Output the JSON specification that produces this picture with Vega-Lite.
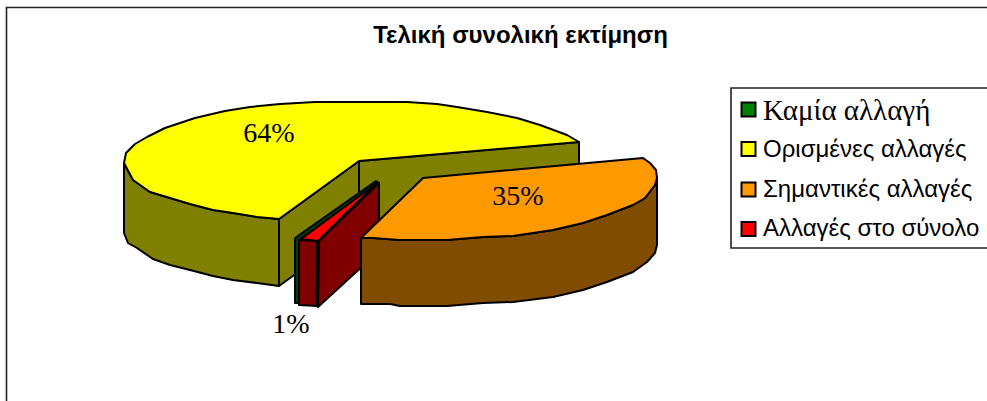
{
"$schema":"https://vega.github.io/schema/vega-lite/v6.json",
"width":987,"height":401,"padding":0,
"autosize":{"type":"fit","contains":"padding"},
"background":"white",
"config":{"view":{"stroke":null}},
"datasets":{
"boxes":[{"box":"frame","x":6.5,"x2":1000,"y":7.5,"y2":420},{"box":"legend","x":731,"x2":1000,"y":88,"y2":248}],
"faces":[
{"part":"a yellow side","x":124,"y":163},{"part":"a yellow side","x":133,"y":180},{"part":"a yellow side","x":150,"y":192},{"part":"a yellow side","x":170,"y":198},{"part":"a yellow side","x":190,"y":204},{"part":"a yellow side","x":213,"y":210},{"part":"a yellow side","x":233,"y":213},{"part":"a yellow side","x":257,"y":217},{"part":"a yellow side","x":279,"y":219},{"part":"a yellow side","x":279,"y":286},{"part":"a yellow side","x":257,"y":283},{"part":"a yellow side","x":233,"y":280},{"part":"a yellow side","x":213,"y":276},{"part":"a yellow side","x":190,"y":270},{"part":"a yellow side","x":170,"y":265},{"part":"a yellow side","x":153,"y":259},{"part":"a yellow side","x":137,"y":248},{"part":"a yellow side","x":128,"y":243},{"part":"a yellow side","x":124,"y":233},{"part":"a yellow side","x":124,"y":163},
{"part":"b yellow cut left","x":279,"y":219},{"part":"b yellow cut left","x":359,"y":161},{"part":"b yellow cut left","x":359,"y":228},{"part":"b yellow cut left","x":279,"y":286},{"part":"b yellow cut left","x":279,"y":219},
{"part":"c yellow cut back","x":359,"y":161},{"part":"c yellow cut back","x":579,"y":142},{"part":"c yellow cut back","x":579,"y":208},{"part":"c yellow cut back","x":359,"y":228},{"part":"c yellow cut back","x":359,"y":161},
{"part":"d yellow top","x":124,"y":163},{"part":"d yellow top","x":126,"y":153},{"part":"d yellow top","x":135,"y":144},{"part":"d yellow top","x":147,"y":137},{"part":"d yellow top","x":165,"y":128},{"part":"d yellow top","x":195,"y":118},{"part":"d yellow top","x":225,"y":111},{"part":"d yellow top","x":250,"y":107},{"part":"d yellow top","x":280,"y":104},{"part":"d yellow top","x":315,"y":102},{"part":"d yellow top","x":407,"y":102},{"part":"d yellow top","x":437,"y":104},{"part":"d yellow top","x":457,"y":107},{"part":"d yellow top","x":487,"y":112},{"part":"d yellow top","x":517,"y":118},{"part":"d yellow top","x":540,"y":125},{"part":"d yellow top","x":567,"y":135},{"part":"d yellow top","x":579,"y":142},{"part":"d yellow top","x":359,"y":161},{"part":"d yellow top","x":279,"y":219},{"part":"d yellow top","x":257,"y":217},{"part":"d yellow top","x":233,"y":213},{"part":"d yellow top","x":213,"y":210},{"part":"d yellow top","x":190,"y":204},{"part":"d yellow top","x":170,"y":198},{"part":"d yellow top","x":150,"y":192},{"part":"d yellow top","x":133,"y":180},{"part":"d yellow top","x":124,"y":163},
{"part":"e green side","x":295,"y":238},{"part":"e green side","x":376,"y":181},{"part":"e green side","x":379,"y":183},{"part":"e green side","x":299,"y":240},{"part":"e green side","x":299,"y":303},{"part":"e green side","x":295,"y":303},{"part":"e green side","x":295,"y":238},
{"part":"f red right","x":319,"y":241},{"part":"f red right","x":379,"y":183},{"part":"f red right","x":379,"y":251},{"part":"f red right","x":318,"y":307},{"part":"f red right","x":319,"y":241},
{"part":"g red front","x":299,"y":240},{"part":"g red front","x":317,"y":241},{"part":"g red front","x":317,"y":306},{"part":"g red front","x":299,"y":305},{"part":"g red front","x":299,"y":240},
{"part":"h red top","x":301,"y":239},{"part":"h red top","x":377,"y":183},{"part":"h red top","x":318,"y":241},{"part":"h red top","x":301,"y":239},
{"part":"i orange side","x":361,"y":238},{"part":"i orange side","x":373,"y":238},{"part":"i orange side","x":400,"y":240},{"part":"i orange side","x":447,"y":240},{"part":"i orange side","x":483,"y":237},{"part":"i orange side","x":513,"y":236},{"part":"i orange side","x":553,"y":230},{"part":"i orange side","x":583,"y":223},{"part":"i orange side","x":607,"y":215},{"part":"i orange side","x":633,"y":205},{"part":"i orange side","x":645,"y":198},{"part":"i orange side","x":655,"y":185},{"part":"i orange side","x":657,"y":178},{"part":"i orange side","x":657,"y":245},{"part":"i orange side","x":655,"y":253},{"part":"i orange side","x":647,"y":262},{"part":"i orange side","x":633,"y":272},{"part":"i orange side","x":607,"y":282},{"part":"i orange side","x":583,"y":290},{"part":"i orange side","x":553,"y":297},{"part":"i orange side","x":513,"y":302},{"part":"i orange side","x":483,"y":303},{"part":"i orange side","x":447,"y":306},{"part":"i orange side","x":400,"y":306},{"part":"i orange side","x":390,"y":304},{"part":"i orange side","x":361,"y":304},{"part":"i orange side","x":361,"y":238},
{"part":"j orange top","x":361,"y":238},{"part":"j orange top","x":423,"y":178},{"part":"j orange top","x":643,"y":158},{"part":"j orange top","x":650,"y":163},{"part":"j orange top","x":656,"y":170},{"part":"j orange top","x":657,"y":178},{"part":"j orange top","x":655,"y":185},{"part":"j orange top","x":645,"y":198},{"part":"j orange top","x":633,"y":205},{"part":"j orange top","x":607,"y":215},{"part":"j orange top","x":583,"y":223},{"part":"j orange top","x":553,"y":230},{"part":"j orange top","x":513,"y":236},{"part":"j orange top","x":483,"y":237},{"part":"j orange top","x":447,"y":240},{"part":"j orange top","x":400,"y":240},{"part":"j orange top","x":373,"y":238},{"part":"j orange top","x":361,"y":238}
],
"keys":[{"category":"Καμία αλλαγή","x":748.5,"y":109.5},{"category":"Ορισμένες αλλαγές","x":748.5,"y":149},{"category":"Σημαντικές αλλαγές","x":748.5,"y":189.5},{"category":"Αλλαγές στο σύνολο","x":748.5,"y":229}]
},
"encoding":{
"x":{"field":"x","type":"quantitative","axis":null,"scale":{"domain":[0,987],"range":[0,987],"nice":false,"zero":false}},
"y":{"field":"y","type":"quantitative","axis":null,"scale":{"domain":[0,401],"range":[0,401],"nice":false,"zero":false}}
},
"layer":[
{"data":{"name":"boxes"},"mark":{"type":"rect","fill":"white","stroke":"#222222","strokeWidth":1.6,"clip":true},
 "encoding":{"x2":{"field":"x2"},"y2":{"field":"y2"}}},
{"data":{"name":"faces"},"transform":[{"window":[{"op":"row_number","as":"seq"}],"groupby":["part"]}],
 "mark":{"type":"line","stroke":"black","strokeWidth":2,"strokeJoin":"round"},
 "encoding":{"order":{"field":"seq","type":"quantitative"},"detail":{"field":"part"},
  "fill":{"field":"part","type":"nominal","legend":null,"scale":{"domain":["a yellow side","b yellow cut left","c yellow cut back","d yellow top","e green side","f red right","g red front","h red top","i orange side","j orange top"],"range":["#808000","#808000","#808000","#FFFF00","#004000","#800000","#800000","#FF0000","#804C00","#FF9900"]}}}},
{"data":{"values":[{"t":"Τελική συνολική εκτίμηση","x":520.5,"y":43}]},"mark":{"type":"text","font":"Liberation Sans","fontWeight":"bold","fontSize":24,"align":"center","baseline":"alphabetic","color":"black"},"encoding":{"text":{"field":"t"}}},
{"data":{"values":[{"t":"64%","x":269,"y":142},{"t":"35%","x":518,"y":205},{"t":"1%","x":291,"y":333}]},"mark":{"type":"text","font":"Liberation Serif","fontSize":28,"align":"center","baseline":"alphabetic","color":"black"},"encoding":{"text":{"field":"t"}}},
{"data":{"name":"keys"},"mark":{"type":"point","shape":"square","filled":true,"size":196,"stroke":"black","strokeWidth":2,"opacity":1},
 "encoding":{"fill":{"field":"category","type":"nominal","legend":null,"scale":{"domain":["Καμία αλλαγή","Ορισμένες αλλαγές","Σημαντικές αλλαγές","Αλλαγές στο σύνολο"],"range":["#008000","#FFFF00","#FF9900","#FF0000"]}}}},
{"data":{"values":[{"t":"Καμία αλλαγή","x":763,"y":120}]},"mark":{"type":"text","font":"Liberation Serif","fontSize":29,"align":"left","baseline":"alphabetic","color":"black"},"encoding":{"text":{"field":"t"}}},
{"data":{"values":[{"t":"Ορισμένες αλλαγές","x":763,"y":157},{"t":"Σημαντικές αλλαγές","x":763,"y":197},{"t":"Αλλαγές στο σύνολο","x":763,"y":236}]},"mark":{"type":"text","font":"Liberation Sans","fontSize":24,"align":"left","baseline":"alphabetic","color":"black"},"encoding":{"text":{"field":"t"}}}
],
"resolve":{"scale":{"fill":"independent"}}
}
